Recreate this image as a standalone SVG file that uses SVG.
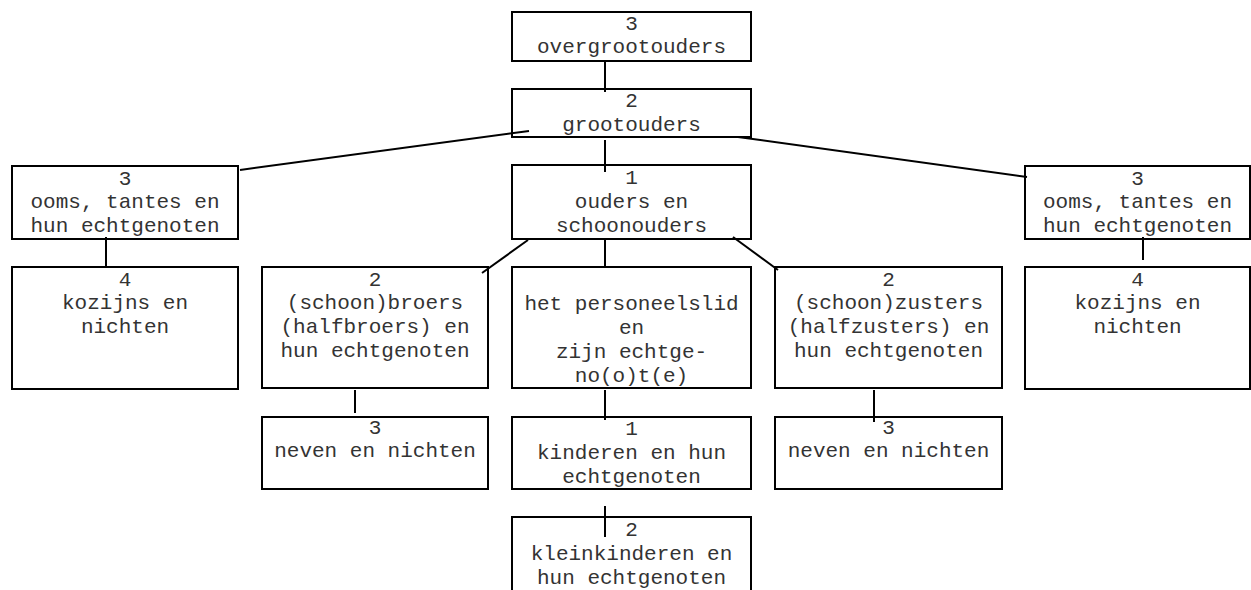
<svg xmlns="http://www.w3.org/2000/svg" width="1251" height="590" viewBox="0 0 1251 590">
<style>
.box{fill:#fff;stroke:#000;stroke-width:2}
.t{font-family:"Liberation Mono","Courier New",monospace;font-size:21px;fill:#333;text-anchor:middle}
.c{stroke:#000;stroke-width:2;fill:none}
</style>
<rect width="1251" height="590" fill="#fff"/>
<g id="nodes">
<g id="overgrootouders"><rect class="box" x="512" y="12" width="239" height="49"/>
<text class="t" x="631.5" y="30">3</text><text class="t" x="631.5" y="53">overgrootouders</text></g>
<g id="grootouders"><rect class="box" x="512" y="89" width="239" height="48"/>
<text class="t" x="631.5" y="107">2</text><text class="t" x="631.5" y="131">grootouders</text></g>
<g id="ouders"><rect class="box" x="512" y="165" width="239" height="74"/>
<text class="t" x="631.5" y="184">1</text><text class="t" x="631.5" y="208">ouders en</text><text class="t" x="631.5" y="232">schoonouders</text></g>
<g id="ooms-links"><rect class="box" x="12" y="166" width="226" height="73"/>
<text class="t" x="125" y="185">3</text><text class="t" x="125" y="208">ooms, tantes en</text><text class="t" x="125" y="232">hun echtgenoten</text></g>
<g id="kozijns-links"><rect class="box" x="12" y="267" width="226" height="122"/>
<text class="t" x="125" y="286">4</text><text class="t" x="125" y="309">kozijns en</text><text class="t" x="125" y="333">nichten</text></g>
<g id="ooms-rechts"><rect class="box" x="1025" y="166" width="225" height="73"/>
<text class="t" x="1137.5" y="185">3</text><text class="t" x="1137.5" y="208">ooms, tantes en</text><text class="t" x="1137.5" y="232">hun echtgenoten</text></g>
<g id="kozijns-rechts"><rect class="box" x="1025" y="267" width="225" height="122"/>
<text class="t" x="1137.5" y="286">4</text><text class="t" x="1137.5" y="309">kozijns en</text><text class="t" x="1137.5" y="333">nichten</text></g>
<g id="broers"><rect class="box" x="262" y="267" width="226" height="121"/>
<text class="t" x="375" y="286">2</text><text class="t" x="375" y="309">(schoon)broers</text><text class="t" x="375" y="333">(halfbroers) en</text><text class="t" x="375" y="357">hun echtgenoten</text></g>
<g id="personeelslid"><rect class="box" x="512" y="267" width="239" height="121"/>
<text class="t" x="631.5" y="310">het personeelslid</text><text class="t" x="631.5" y="334">en</text><text class="t" x="631.5" y="358">zijn echtge-</text><text class="t" x="631.5" y="382">no(o)t(e)</text></g>
<g id="zusters"><rect class="box" x="775" y="267" width="227" height="121"/>
<text class="t" x="888.5" y="286">2</text><text class="t" x="888.5" y="309">(schoon)zusters</text><text class="t" x="888.5" y="333">(halfzusters) en</text><text class="t" x="888.5" y="357">hun echtgenoten</text></g>
<g id="neven-links"><rect class="box" x="262" y="417" width="226" height="72"/>
<text class="t" x="375" y="434">3</text><text class="t" x="375" y="457">neven en nichten</text></g>
<g id="kinderen"><rect class="box" x="512" y="417" width="239" height="72"/>
<text class="t" x="631.5" y="435">1</text><text class="t" x="631.5" y="459">kinderen en hun</text><text class="t" x="631.5" y="483">echtgenoten</text></g>
<g id="neven-rechts"><rect class="box" x="775" y="417" width="227" height="72"/>
<text class="t" x="888.5" y="434">3</text><text class="t" x="888.5" y="457">neven en nichten</text></g>
<g id="kleinkinderen"><rect class="box" x="512" y="517" width="239" height="100"/>
<text class="t" x="631.5" y="536">2</text><text class="t" x="631.5" y="560">kleinkinderen en</text><text class="t" x="631.5" y="584">hun echtgenoten</text></g>
</g>
<g id="connectors">
<line class="c" x1="605" y1="61" x2="605" y2="92"/>
<line class="c" x1="605" y1="140" x2="605" y2="172"/>
<line class="c" x1="240" y1="170" x2="529" y2="131"/>
<line class="c" x1="738" y1="137" x2="1027" y2="177"/>
<line class="c" x1="106" y1="237" x2="106" y2="266"/>
<line class="c" x1="1143" y1="237" x2="1143" y2="260"/>
<line class="c" x1="528" y1="240" x2="482" y2="273"/>
<line class="c" x1="605" y1="239" x2="605" y2="266"/>
<line class="c" x1="733" y1="237" x2="778" y2="270"/>
<line class="c" x1="355" y1="390" x2="355" y2="413"/>
<line class="c" x1="605" y1="390" x2="605" y2="420"/>
<line class="c" x1="874" y1="390" x2="874" y2="422"/>
<line class="c" x1="605" y1="506" x2="605" y2="537"/>
</g>
</svg>
